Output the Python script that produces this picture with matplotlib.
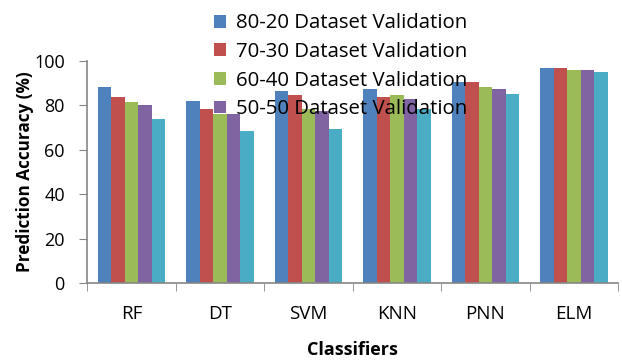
import numpy as np
import matplotlib
matplotlib.use("Agg")
import matplotlib.pyplot as plt

# data
classifiers = ["RF", "DT", "SVM", "KNN", "PNN", "ELM"]
split_80_20 = [88.2, 82.0, 86.3, 87.2, 90.3, 96.8]
split_70_30 = [83.7, 78.5, 84.7, 83.7, 90.3, 96.8]
split_60_40 = [81.6, 76.0, 78.5, 84.7, 88.2, 95.9]
split_50_50 = [80.1, 76.0, 77.6, 82.6, 87.3, 95.9]
split_other = [73.9, 68.4, 69.3, 78.4, 85.2, 94.9]
series_labels = ["80-20 Dataset Validation", "70-30 Dataset Validation",
                 "60-40 Dataset Validation", "50-50 Dataset Validation",
                 "40-60 Dataset Validation"]
colors = ["#4F81BD", "#C0504D", "#9BBB59", "#8064A2", "#4BACC6"]

series = [split_80_20, split_70_30, split_60_40, split_50_50, split_other]

plt.rcParams['font.family'] = ['Open Sans', 'DejaVu Sans']

fig = plt.figure(figsize=(6.22, 3.6), dpi=100)
ax = fig.add_axes([0.140, 0.214, 0.854, 0.617])

x = np.arange(len(classifiers))
w = 0.152
handles = []
for i, (vals, c, lab) in enumerate(zip(series, colors, series_labels)):
    b = ax.bar(x + (i - 2) * w, vals, w, color=c, label=lab, zorder=2)
    handles.append(b)

ax.set_xlim(-0.5, len(classifiers) - 0.5)
ax.set_ylim(0, 100)
ax.set_yticks(range(0, 101, 20))
ax.set_xticks(x)
ax.set_xticklabels(classifiers, fontsize=13.5)
ax.set_xticks(np.arange(-0.5, len(classifiers)), minor=True)
ax.tick_params(axis='x', which='major', length=0, pad=16)
ax.tick_params(axis='x', which='minor', length=6, color='#868686', direction='out')
ax.tick_params(axis='y', length=6, color='#868686', labelsize=13, pad=10)

for s in ['top', 'right']:
    ax.spines[s].set_visible(False)
for s in ['left', 'bottom']:
    ax.spines[s].set_color('#868686')
    ax.spines[s].set_linewidth(1.2)

ax.set_ylabel("Prediction Accuracy (%)", fontsize=12.3, fontweight='bold', labelpad=0)
ax.set_xlabel("Classifiers", fontsize=13, fontweight='bold', labelpad=13)

leg = fig.legend(handles[:4], series_labels[:4], loc='upper left',
                 bbox_to_anchor=(0.318, 1.008), frameon=False, fontsize=14.7,
                 handlelength=0.58, handleheight=0.58, handletextpad=0.5,
                 labelspacing=0.42, borderpad=0.3)
leg.set_zorder(5)

fig.savefig("out.png", dpi=100)
